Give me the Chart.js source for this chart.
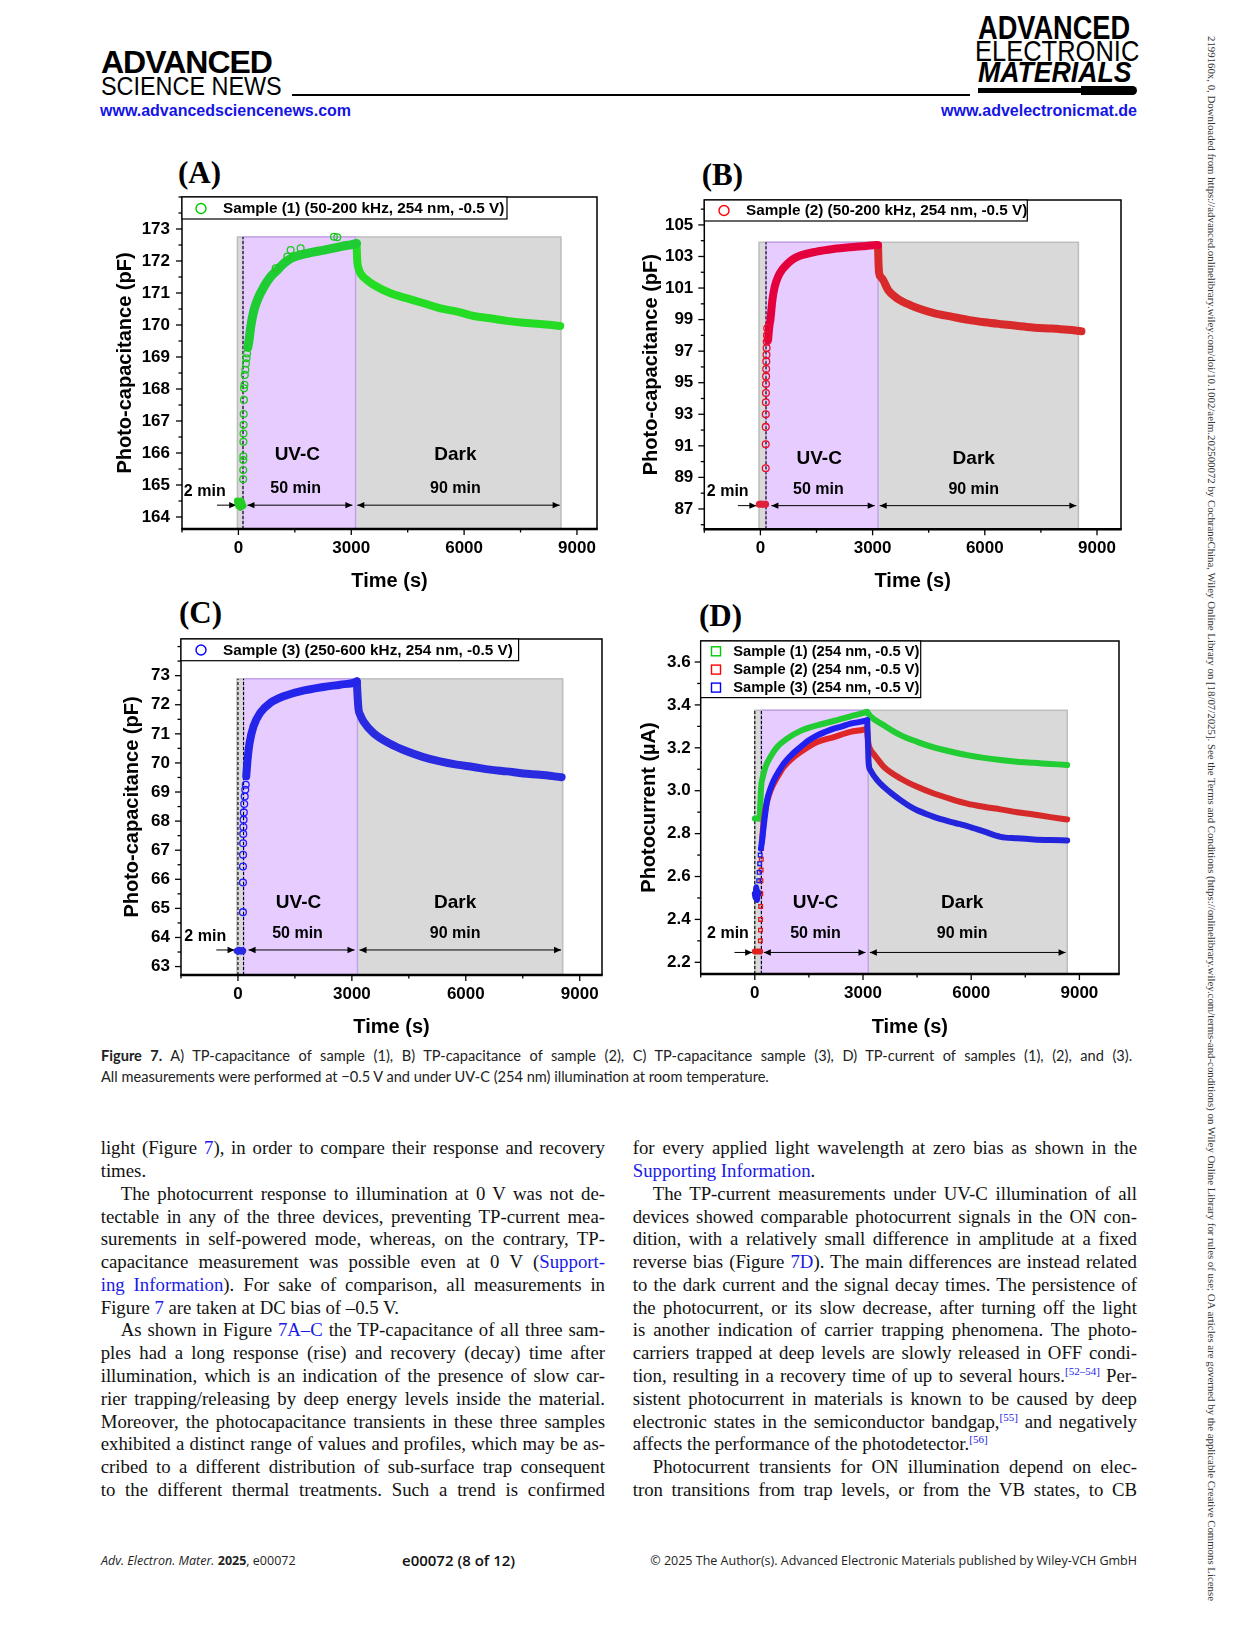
<!DOCTYPE html>
<html><head><meta charset="utf-8">
<script src="https://cdn.jsdelivr.net/npm/chart.js@4.4.1/dist/chart.umd.min.js"></script>
<style>
html,body{margin:0;padding:0;background:#fff;}
body{width:1241px;height:1630px;position:relative;overflow:hidden;font-family:'Liberation Sans',Arial,sans-serif;color:#000;}
.a{position:absolute;white-space:nowrap;line-height:1;}
canvas{position:absolute;}
.pl{position:absolute;font-family:'Liberation Serif',serif;font-weight:bold;font-size:31px;line-height:1;}
.tl{position:absolute;display:inline-block;white-space:nowrap;font-family:'Liberation Serif',serif;font-size:18.8px;line-height:22px;color:#111;}
.lk{color:#1a1ae6;}
sup{font-size:11px;line-height:0;vertical-align:7px;}
.cap{position:absolute;display:inline-block;white-space:nowrap;font-family:Lato,'Open Sans',sans-serif;font-size:14.6px;line-height:18px;color:#222;}
.ft{position:absolute;white-space:nowrap;font-family:'Open Sans',sans-serif;font-size:12.5px;line-height:16px;color:#222;}
</style></head><body>

<!-- header -->
<div class="a" style="left:101px;top:46px;font-size:32px;font-weight:bold;letter-spacing:-1px;">ADVANCED</div>
<div class="a" style="left:101px;top:73px;font-size:26px;transform:scaleX(0.9);transform-origin:left top;">SCIENCE NEWS</div>
<div style="position:absolute;left:292px;top:94px;width:678px;height:1.6px;background:#000;"></div>
<div class="a" style="left:100px;top:103px;font-size:16px;font-weight:bold;color:#1414e6;">www.advancedsciencenews.com</div>
<div class="a" style="left:978px;top:10px;font-size:34px;font-weight:bold;transform:scaleX(0.8);transform-origin:left top;">ADVANCED</div>
<div class="a" style="left:975px;top:36px;font-size:30px;transform:scaleX(0.85);transform-origin:left top;">ELECTRONIC</div>
<div class="a" style="left:978px;top:58px;font-size:29px;font-weight:bold;font-style:italic;transform:scaleX(0.92);transform-origin:left top;">MATERIALS</div>
<div style="position:absolute;left:978px;top:88px;width:105px;height:5px;background:#000;"></div>
<div style="position:absolute;left:1081px;top:86px;width:56px;height:9px;background:#000;border-radius:0 4.5px 4.5px 0;"></div>
<div class="a" style="right:104px;top:103px;font-size:16px;font-weight:bold;color:#1414e6;">www.advelectronicmat.de</div>
<div id="vt" class="a" style="left:1216px;top:36px;font-family:'Liberation Serif',serif;font-size:10.5px;color:#333;transform-origin:left top;">2199160x, 0, Downloaded from https://advanced.onlinelibrary.wiley.com/doi/10.1002/aelm.202500072 by CochraneChina, Wiley Online Library on [18/07/2025]. See the Terms and Conditions (https://onlinelibrary.wiley.com/terms-and-conditions) on Wiley Online Library for rules of use; OA articles are governed by the applicable Creative Commons License</div>

<!-- panel letters -->
<div class="pl" style="left:178px;top:157px;">(A)</div>
<div class="pl" style="left:701.7px;top:158.7px;">(B)</div>
<div class="pl" style="left:179px;top:597px;">(C)</div>
<div class="pl" style="left:699px;top:599.7px;">(D)</div>

<canvas id="cA"></canvas>
<canvas id="cB"></canvas>
<canvas id="cC"></canvas>
<canvas id="cD"></canvas>

<div id="caption"></div>
<div id="body"></div>

<div class="ft" style="left:101px;top:1553px;"><i>Adv. Electron. Mater.</i> <b>2025</b>, e00072</div>
<div class="ft" style="left:402px;top:1552px;font-size:15px;font-weight:600;color:#111;">e00072 (8 of 12)</div>
<div class="ft" style="right:104px;top:1553px;">© 2025 The Author(s). Advanced Electronic Materials published by Wiley-VCH GmbH</div>

<script>
// ================= DATA =================
const xTicks  = [0, 3000, 6000, 9000];
const yTicksA = [164, 165, 166, 167, 168, 169, 170, 171, 172, 173];
const yTicksB = [87, 89, 91, 93, 95, 97, 99, 101, 103, 105];
const yTicksC = [63, 64, 65, 66, 67, 68, 69, 70, 71, 72, 73];
const yTicksD = [2.2, 2.4, 2.6, 2.8, 3.0, 3.2, 3.4, 3.6];

const labelA = 'Sample (1) (50-200 kHz, 254 nm, -0.5 V)';
const labelB = 'Sample (2) (50-200 kHz, 254 nm, -0.5 V)';
const labelC = 'Sample (3) (250-600 kHz, 254 nm, -0.5 V)';
const labelsD = ['Sample (1) (254 nm, -0.5 V)', 'Sample (2) (254 nm, -0.5 V)', 'Sample (3) (254 nm, -0.5 V)'];

// (A) Sample (1) photo-capacitance, pF
const s1BaseT  = [-25, 0, 25, 50, 75, 100, 120];
const s1BaseV  = [164.5, 164.35, 164.45, 164.3, 164.5, 164.4, 164.35];
const s1DotsT  = [126, 128, 130, 131, 133, 135, 138, 140, 146, 150, 160, 170, 185, 200, 215, 230, 991, 1300, 1389, 1654, 2540, 2628];
const s1DotsV  = [165.18, 165.47, 165.78, 165.9, 166.35, 166.61, 166.88, 167.22, 167.66, 168.02, 168.13, 168.44, 168.6, 168.8, 168.96, 169.11, 171.77, 172.14, 172.34, 172.4, 172.76, 172.74];
const s1RiseT  = [250, 283, 327, 415, 504, 681, 858, 1035, 1212, 1389, 1831, 2274, 2716, 3070, 3140];
const s1RiseV  = [169.3, 169.53, 169.95, 170.47, 170.78, 171.2, 171.51, 171.72, 171.93, 172.08, 172.24, 172.34, 172.45, 172.53, 172.55];
const s1DecayT = [3140, 3160, 3200, 3247, 3424, 3601, 4044, 4486, 4928, 5371, 5813, 6256, 6698, 7140, 7583, 8025, 8556];
const s1DecayV = [172.55, 172.0, 171.75, 171.61, 171.4, 171.25, 170.99, 170.83, 170.68, 170.52, 170.42, 170.28, 170.21, 170.13, 170.07, 170.03, 169.97];

// (B) Sample (2) photo-capacitance, pF
const s2BaseT  = [-30, 0, 30, 60, 90, 120, 140];
const s2BaseV  = [87.3, 87.3, 87.32, 87.28, 87.3, 87.3, 87.3];
const s2DotsT  = [142, 142, 143, 144, 146, 148, 150, 152, 155, 158, 162, 166, 170, 176, 182];
const s2DotsV  = [89.58, 91.1, 92.2, 93.0, 93.76, 94.35, 94.92, 95.4, 95.87, 96.35, 96.77, 97.2, 97.6, 98.0, 98.45];
const s2RiseT  = [204, 240, 267, 321, 383, 473, 562, 695, 873, 1052, 1497, 1943, 2389, 2834, 3102, 3145];
const s2RiseV  = [97.7, 98.6, 98.98, 100.25, 101.09, 101.72, 102.1, 102.47, 102.83, 103.04, 103.31, 103.48, 103.59, 103.67, 103.73, 103.72];
const s2DecayT = [3145, 3158, 3175, 3220, 3281, 3415, 3593, 3771, 4217, 4662, 5108, 5554, 6000, 6445, 6891, 7337, 7782, 8228, 8585];
const s2DecayV = [103.7, 102.6, 101.95, 101.7, 101.51, 100.88, 100.46, 100.18, 99.72, 99.4, 99.19, 98.98, 98.83, 98.71, 98.6, 98.49, 98.43, 98.35, 98.26];

// (C) Sample (3) photo-capacitance, pF
const s3BaseT  = [-20, 0, 25, 50, 75, 100, 125];
const s3BaseV  = [63.54, 63.52, 63.56, 63.54, 63.53, 63.55, 63.54];
const s3DotsT  = [131, 131, 132, 134, 136, 139, 143, 148, 155, 165, 178, 192, 205];
const s3DotsV  = [64.87, 65.89, 66.44, 66.84, 67.24, 67.56, 67.8, 68.05, 68.3, 68.59, 68.85, 69.08, 69.25];
const s3RiseT  = [218, 253, 305, 410, 585, 848, 1199, 1638, 2252, 2691, 3085, 3130];
const s3RiseV  = [69.54, 70.11, 70.68, 71.26, 71.72, 72.06, 72.29, 72.46, 72.61, 72.69, 72.77, 72.8];
const s3DecayT = [3130, 3150, 3175, 3220, 3304, 3567, 4006, 4445, 4883, 5322, 5761, 6199, 6638, 7077, 7515, 7954, 8524];
const s3DecayV = [72.8, 72.3, 71.85, 71.65, 71.43, 71.03, 70.66, 70.4, 70.2, 70.05, 69.94, 69.86, 69.77, 69.71, 69.64, 69.59, 69.51];

// (D) photocurrent, µA
const d1BaseT  = [0, 30, 60, 90, 120, 135];
const d1BaseV  = [2.87, 2.87, 2.87, 2.87, 2.87, 2.87];
const d1RiseT  = [135, 150, 176, 222, 296, 435, 620, 897, 1267, 1729, 2190, 2653, 3116];
const d1RiseV  = [2.87, 2.93, 3.018, 3.064, 3.111, 3.158, 3.204, 3.243, 3.279, 3.305, 3.325, 3.347, 3.367];
const d1DecayT = [3116, 3208, 3578, 4040, 4502, 4964, 5426, 5888, 6350, 6812, 7274, 7736, 8198, 8661];
const d1DecayV = [3.367, 3.347, 3.305, 3.259, 3.228, 3.202, 3.183, 3.166, 3.153, 3.143, 3.135, 3.13, 3.125, 3.12];

const d2BaseT  = [0, 30, 60, 90, 120, 150];
const d2BaseV  = [2.25, 2.25, 2.25, 2.25, 2.25, 2.25];
const d2DotsT  = [155, 158, 160, 163, 166, 170, 175, 180, 188];
const d2DotsV  = [2.3, 2.35, 2.4, 2.46, 2.52, 2.58, 2.63, 2.68, 2.73];
const d2RiseT  = [195, 230, 270, 342, 435, 527, 665, 804, 1035, 1267, 1729, 2190, 2653, 3023, 3110];
const d2RiseV  = [2.76, 2.83, 2.89, 2.95, 3.0, 3.034, 3.075, 3.111, 3.15, 3.18, 3.227, 3.25, 3.274, 3.285, 3.29];
const d2DecayT = [3110, 3130, 3150, 3180, 3300, 3393, 3578, 4040, 4502, 4964, 5426, 5888, 6350, 6812, 7274, 7736, 8198, 8661];
const d2DecayV = [3.29, 3.25, 3.22, 3.2, 3.17, 3.15, 3.111, 3.057, 3.018, 2.987, 2.962, 2.94, 2.925, 2.913, 2.9, 2.889, 2.877, 2.866];

const d3BaseT  = [0, 20, 40, 60, 80, 100];
const d3BaseV  = [2.52, 2.5, 2.55, 2.49, 2.53, 2.52];
const d3DotsT  = [110, 120, 135, 150];
const d3DotsV  = [2.58, 2.62, 2.66, 2.7];
const d3RiseT  = [170, 204, 250, 342, 435, 527, 665, 804, 1035, 1267, 1500, 1729, 1960, 2190, 2420, 2653, 2880, 3116];
const d3RiseV  = [2.73, 2.77, 2.84, 2.956, 3.01, 3.049, 3.09, 3.127, 3.17, 3.204, 3.235, 3.258, 3.275, 3.289, 3.3, 3.313, 3.32, 3.328];
const d3DecayT = [3116, 3135, 3150, 3170, 3208, 3393, 3578, 3809, 4040, 4271, 4502, 4733, 4964, 5195, 5426, 5657, 5888, 6350, 6812, 7274, 7736, 8198, 8661];
const d3DecayV = [3.328, 3.24, 3.15, 3.11, 3.095, 3.049, 3.018, 2.985, 2.956, 2.93, 2.909, 2.893, 2.878, 2.866, 2.855, 2.845, 2.835, 2.81, 2.785, 2.778, 2.773, 2.77, 2.768];

// ================= helpers =================
Chart.defaults.font.family = "'Liberation Sans', Arial, sans-serif";
function pts(t, v) { return t.map((x, i) => ({x: x, y: v[i]})); }
function band(t, v, color, width, order, label) {
  return {label: label || '', data: pts(t, v), borderColor: color, backgroundColor: color, borderWidth: width,
    pointRadius: 0, fill: false, cubicInterpolationMode: 'monotone', borderCapStyle: 'round', borderJoinStyle: 'round', order: order};
}
function dots(t, v, color, style, r, order) {
  return {data: pts(t, v), showLine: false, pointStyle: style, pointRadius: r, pointBorderWidth: 1.3,
    pointBorderColor: color, pointBackgroundColor: 'rgba(255,255,255,0)', order: order};
}
function head(ctx, x, y, dir) {
  ctx.beginPath(); ctx.moveTo(x, y); ctx.lineTo(x - dir * 7, y - 3.2); ctx.lineTo(x - dir * 7, y + 3.2); ctx.closePath(); ctx.fill();
}

// ================= panel layout / styling =================
const PAD_TOP = 32, PAD_RIGHT = 16;
const panels = [
  { id: 'cA', L: 182, T: 197, R: 597, B: 529, yTitleX: 125, xTitleY: 581,
    xMin: -1500, xMax: 9533, yMin: 163.625, yMax: 174.0, yTicks: yTicksA, yMinorStep: 0.5, yPad: 12,
    yTitle: 'Photo-capacitance (pF)', fmt: v => String(v),
    shade: [-27, 122, 3114, 8575], shadeTop: 172.75, dashed: [122],
    arrowY: 164.37, arrows: [[-570, -60, 1], [240, 3030, 2], [3160, 8540, 2]],
    texts: [['2 min', -895, 164.78, 16], ['UV-C', 1566, 165.94, 19], ['50 min', 1521, 164.9, 16], ['Dark', 5768, 165.94, 19], ['90 min', 5768, 164.9, 16]],
    legend: {w: 325, h: 22, rows: [11.5], mx: 19, tx: 41, shape: 'circle', font: 15.3, items: [[labelA, '#00cc00']]},
    datasets: [
      dots(s1DotsT, s1DotsV, '#1ec81e', 'circle', 3.4, 0),
      band(s1BaseT, s1BaseV, '#22cc22', 7, 1, labelA),
      band(s1RiseT, s1RiseV, '#1fcc33', 9, 1),
      band(s1DecayT, s1DecayV, '#24dc24', 8, 1)
    ] },
  { id: 'cB', L: 704.3, T: 200, R: 1121, B: 529.3, yTitleX: 651, xTitleY: 581,
    xMin: -1500, xMax: 9642, yMin: 85.71, yMax: 106.58, yTicks: yTicksB, yMinorStep: 1, yPad: 11,
    yTitle: 'Photo-capacitance (pF)', fmt: v => String(v),
    shade: [-37, 150, 3145, 8503], shadeTop: 103.9, dashed: [150],
    arrowY: 87.21, arrows: [[-599, -107, 1], [294, 3056, 2], [3190, 8449, 2]],
    texts: [['2 min', -874, 88.1, 16], ['UV-C', 1572, 90.21, 19], ['50 min', 1550, 88.2, 16], ['Dark', 5704, 90.15, 19], ['90 min', 5704, 88.2, 16]],
    legend: {w: 323, h: 21, rows: [10.5], mx: 19.7, tx: 41.7, shape: 'circle', font: 15.3, items: [[labelB, '#ff0000']]},
    datasets: [
      dots(s2DotsT, s2DotsV, '#e8102a', 'circle', 3.4, 0),
      band(s2BaseT, s2BaseV, '#e0203a', 7, 1, labelB),
      band(s2RiseT, s2RiseV, '#e4003c', 8, 1),
      band(s2DecayT, s2DecayV, '#d82a2a', 8, 1)
    ] },
  { id: 'cC', L: 180.7, T: 639.3, R: 602, B: 975, yTitleX: 131.7, xTitleY: 1027,
    xMin: -1500, xMax: 9587, yMin: 62.71, yMax: 74.26, yTicks: yTicksC, yMinorStep: 0.5, yPad: 11,
    yTitle: 'Photo-capacitance (pF)', fmt: v => String(v),
    shade: [-26, 147, 3147, 8552], shadeTop: 72.89, dashed: [0, 147],
    arrowY: 63.57, arrows: [[-571, -89, 1], [279, 3069, 2], [3200, 8509, 2]],
    texts: [['2 min', -861, 64.03, 16], ['UV-C', 1595, 65.2, 19], ['50 min', 1569, 64.15, 16], ['Dark', 5719, 65.2, 19], ['90 min', 5719, 64.15, 16]],
    legend: {w: 337.6, h: 21.7, rows: [11], mx: 20, tx: 42, shape: 'circle', font: 15.3, items: [[labelC, '#0000ff']]},
    datasets: [
      dots(s3DotsT, s3DotsV, '#2020ff', 'circle', 3.4, 0),
      band(s3BaseT, s3BaseV, '#2a2ae6', 7, 1, labelC),
      band(s3RiseT, s3RiseV, '#2424ea', 8, 1),
      band(s3DecayT, s3DecayV, '#2a2ae0', 8, 1)
    ] },
  { id: 'cD', L: 700.7, T: 640.7, R: 1119, B: 974, yTitleX: 649, xTitleY: 1027,
    xMin: -1500, xMax: 10098, yMin: 2.1455, yMax: 3.698, yTicks: yTicksD, yMinorStep: 0.1, yPad: 10,
    yTitle: 'Photocurrent (µA)', fmt: v => v.toFixed(1),
    shade: [0, 183, 3144, 8662], shadeTop: 3.375, dashed: [0, 183],
    arrowY: 2.246, arrows: [[-563, -73, 1], [250, 3070, 2], [3189, 8616, 2]],
    texts: [['2 min', -743, 2.336, 16], ['UV-C', 1683, 2.477, 19], ['50 min', 1683, 2.336, 16], ['Dark', 5751, 2.477, 19], ['90 min', 5751, 2.336, 16]],
    legend: {w: 220, h: 56.6, rows: [10.3, 28.6, 46.6], mx: 15.3, tx: 32.6, shape: 'square', font: 14.7,
             items: [[labelsD[0], '#00cc00'], [labelsD[1], '#ff0000'], [labelsD[2], '#0000ff']]},
    datasets: [
      band(d1BaseT, d1BaseV, '#22cc33', 6, 6, labelsD[0]),
      band(d1RiseT, d1RiseV, '#22cc33', 6, 6),
      band(d1DecayT, d1DecayV, '#22cc33', 6, 6),
      band(d2BaseT, d2BaseV, '#e02020', 6, 4, labelsD[1]),
      dots(d2DotsT, d2DotsV, '#e01818', 'rect', 2.6, 3),
      band(d2RiseT, d2RiseV, '#e02626', 6, 4),
      band(d2DecayT, d2DecayV, '#d62a2a', 6, 4),
      band(d3BaseT, d3BaseV, '#2020e6', 6, 1, labelsD[2]),
      dots(d3DotsT, d3DotsV, '#1818f0', 'rect', 2.6, 0),
      band(d3RiseT, d3RiseV, '#1f1ff0', 6, 1),
      band(d3DecayT, d3DecayV, '#2424dc', 6, 1)
    ] }
];

function decor(p) {
  return {
    id: 'decor',
    beforeDatasetsDraw(chart) {
      const {ctx, chartArea: a, scales: {x, y}} = chart;
      const X = v => x.getPixelForValue(v), Y = v => y.getPixelForValue(v);
      ctx.save();
      const ty = Y(p.shadeTop);
      const g0 = X(p.shade[0]), u0 = X(p.shade[1]), u1 = X(p.shade[2]), g1 = X(p.shade[3]);
      ctx.fillStyle = '#d9d9d9'; ctx.fillRect(g0, ty, g1 - g0, a.bottom - ty);
      ctx.strokeStyle = '#bdbdbd'; ctx.lineWidth = 1.5; ctx.strokeRect(g0, ty, g1 - g0, a.bottom - ty);
      ctx.fillStyle = '#e6ccff'; ctx.fillRect(u0, ty, u1 - u0, a.bottom - ty);
      ctx.strokeStyle = '#c3a0ec'; ctx.lineWidth = 1.4; ctx.strokeRect(u0, ty, u1 - u0, a.bottom - ty);
      ctx.strokeStyle = '#000'; ctx.lineWidth = 1.1; ctx.setLineDash([3, 2]);
      p.dashed.forEach(v => { const px = X(v); ctx.beginPath(); ctx.moveTo(px, a.bottom); ctx.lineTo(px, ty); ctx.stroke(); });
      ctx.setLineDash([]);
      const ay = Y(p.arrowY);
      ctx.fillStyle = '#000'; ctx.strokeStyle = '#000'; ctx.lineWidth = 1;
      p.arrows.forEach(([s, e, k]) => {
        const xs = X(s), xe = X(e);
        ctx.beginPath(); ctx.moveTo(xs, ay); ctx.lineTo(xe, ay); ctx.stroke();
        head(ctx, xe, ay, 1);
        if (k === 2) head(ctx, xs, ay, -1);
      });
      ctx.textAlign = 'center'; ctx.textBaseline = 'middle';
      p.texts.forEach(([t, tx, tyv, fs]) => {
        ctx.font = 'bold ' + fs + "px 'Liberation Sans', Arial, sans-serif";
        ctx.fillText(t, X(tx), Y(tyv));
      });
      ctx.restore();
    },
    afterDraw(chart) {
      const {ctx, chartArea: a, scales: {x, y}} = chart;
      const X = v => x.getPixelForValue(v), Y = v => y.getPixelForValue(v);
      ctx.save();
      ctx.strokeStyle = '#000';
      ctx.lineWidth = 1.5;
      ctx.beginPath(); ctx.moveTo(a.left, a.bottom); ctx.lineTo(a.left, a.top); ctx.lineTo(a.right, a.top); ctx.lineTo(a.right, a.bottom); ctx.stroke();
      ctx.lineWidth = 2.6;
      ctx.beginPath(); ctx.moveTo(a.left - 0.75, a.bottom); ctx.lineTo(a.right + 0.75, a.bottom); ctx.stroke();
      ctx.lineWidth = 1.3;
      const isMajor = (list, v, eps) => list.some(m => Math.abs(m - v) < eps);
      const k0 = Math.ceil(p.yMin / p.yMinorStep - 1e-9), k1 = Math.floor(p.yMax / p.yMinorStep + 1e-9);
      for (let k = k0; k <= k1; k++) {
        const v = k * p.yMinorStep, py = Y(v);
        const len = isMajor(p.yTicks, v, p.yMinorStep / 10) ? 6 : 3.5;
        ctx.beginPath(); ctx.moveTo(a.left, py); ctx.lineTo(a.left - len, py); ctx.stroke();
      }
      for (let v = -1500; v <= p.xMax; v += 1500) {
        const px = X(v);
        const len = isMajor(xTicks, v, 1) ? 6 : 3.5;
        ctx.beginPath(); ctx.moveTo(px, a.bottom); ctx.lineTo(px, a.bottom + len); ctx.stroke();
      }
      // legend
      const lg = p.legend;
      ctx.fillStyle = '#fff'; ctx.fillRect(a.left, a.top, lg.w, lg.h);
      ctx.strokeStyle = '#000'; ctx.lineWidth = 1.2; ctx.strokeRect(a.left, a.top, lg.w, lg.h);
      ctx.font = 'bold ' + lg.font + "px 'Liberation Sans', Arial, sans-serif";
      ctx.textAlign = 'left'; ctx.textBaseline = 'middle';
      lg.items.forEach(([label, color], i) => {
        const cy = a.top + lg.rows[i];
        ctx.strokeStyle = color; ctx.lineWidth = 1.4;
        if (lg.shape === 'circle') { ctx.beginPath(); ctx.arc(a.left + lg.mx, cy, 5, 0, Math.PI * 2); ctx.stroke(); }
        else { ctx.strokeRect(a.left + lg.mx - 4.5, cy - 4.5, 9, 9); }
        ctx.fillStyle = '#000'; ctx.fillText(label, a.left + lg.tx, cy + 0.5);
      });
      ctx.restore();
    }
  };
}

panels.forEach(p => {
  const cv = document.getElementById(p.id);
  const cl = p.yTitleX - 12, ct = p.T - PAD_TOP;
  const yW = p.L - cl, xH = p.xTitleY + 12 - p.B;
  const w = Math.round(p.R - cl + PAD_RIGHT), h = Math.round(p.B - ct + xH);
  cv.style.left = cl + 'px'; cv.style.top = ct + 'px';
  cv.width = w; cv.height = h; cv.style.width = w + 'px'; cv.style.height = h + 'px';
  const tickFont = {family: "'Liberation Sans', Arial, sans-serif", weight: 'bold', size: 17, lineHeight: 1.2};
  const titleFont = {family: "'Liberation Sans', Arial, sans-serif", weight: 'bold', size: 20, lineHeight: 1.2};
  new Chart(cv, {
    type: 'line',
    data: {datasets: p.datasets},
    options: {
      responsive: false, animation: false, events: [],
      layout: {padding: {top: PAD_TOP, right: PAD_RIGHT, left: 0, bottom: 0}},
      plugins: {legend: {display: false}, tooltip: {enabled: false}},
      scales: {
        x: {type: 'linear', min: p.xMin, max: p.xMax, position: 'bottom',
            grid: {display: false, drawTicks: false}, border: {display: false},
            ticks: {font: tickFont, color: '#000', padding: 9, maxRotation: 0, autoSkip: false, callback: v => String(v)},
            afterBuildTicks: s => { s.ticks = xTicks.map(v => ({value: v})); },
            afterFit: s => { s.height = xH; },
            title: {display: true, text: 'Time (s)', font: titleFont, color: '#000', padding: 0}},
        y: {type: 'linear', min: p.yMin, max: p.yMax,
            grid: {display: false, drawTicks: false}, border: {display: false},
            ticks: {font: tickFont, color: '#000', padding: p.yPad, autoSkip: false, callback: v => p.fmt(v)},
            afterBuildTicks: s => { s.ticks = p.yTicks.map(v => ({value: v})); },
            afterFit: s => { s.width = yW; },
            title: {display: true, text: p.yTitle, font: titleFont, color: '#000', padding: 0}}
      }
    },
    plugins: [decor(p)]
  });
});

// ================= text blocks =================
function fitLine(el, W) {
  el.style.wordSpacing = '0px';
  const nat = el.getBoundingClientRect().width;
  const n = (el.textContent.match(/ /g) || []).length;
  if (n > 0) el.style.wordSpacing = ((W - nat) / n) + 'px';
}
function placeLines(container, lines, left, width, top0, step, cls) {
  lines.forEach(([html, mode], i) => {
    const d = document.createElement('div');
    d.className = cls;
    d.innerHTML = html;
    d.style.left = left + 'px';
    d.style.top = (top0 + step * i) + 'px';
    if (mode === 'i') d.style.paddingLeft = '20px';
    container.appendChild(d);
    if (mode !== 'l') fitLine(d, width);
  });
}
const captionLines = [
  ['<b>Figure 7.</b>  A) TP-capacitance of sample (1), B) TP-capacitance of sample (2), C) TP-capacitance sample (3), D) TP-current of samples (1), (2), and (3).', 'j'],
  ['All measurements were performed at −0.5 V and under UV-C (254 nm) illumination at room temperature.', 'l']
];
const leftLines = [
  ['light (Figure <span class="lk">7</span>), in order to compare their response and recovery', 'j'],
  ['times.', 'l'],
  ['The photocurrent response to illumination at 0 V was not de-', 'i'],
  ['tectable in any of the three devices, preventing TP-current mea-', 'j'],
  ['surements in self-powered mode, whereas, on the contrary, TP-', 'j'],
  ['capacitance measurement was possible even at 0 V (<span class="lk">Support-</span>', 'j'],
  ['<span class="lk">ing Information</span>). For sake of comparison, all measurements in', 'j'],
  ['Figure <span class="lk">7</span> are taken at DC bias of –0.5 V.', 'l'],
  ['As shown in Figure <span class="lk">7A–C</span> the TP-capacitance of all three sam-', 'i'],
  ['ples had a long response (rise) and recovery (decay) time after', 'j'],
  ['illumination, which is an indication of the presence of slow car-', 'j'],
  ['rier trapping/releasing by deep energy levels inside the material.', 'j'],
  ['Moreover, the photocapacitance transients in these three samples', 'j'],
  ['exhibited a distinct range of values and profiles, which may be as-', 'j'],
  ['cribed to a different distribution of sub-surface trap consequent', 'j'],
  ['to the different thermal treatments. Such a trend is confirmed', 'j']
];
const rightLines = [
  ['for every applied light wavelength at zero bias as shown in the', 'j'],
  ['<span class="lk">Supporting Information</span>.', 'l'],
  ['The TP-current measurements under UV-C illumination of all', 'i'],
  ['devices showed comparable photocurrent signals in the ON con-', 'j'],
  ['dition, with a relatively small difference in amplitude at a fixed', 'j'],
  ['reverse bias (Figure <span class="lk">7D</span>). The main differences are instead related', 'j'],
  ['to the dark current and the signal decay times. The persistence of', 'j'],
  ['the photocurrent, or its slow decrease, after turning off the light', 'j'],
  ['is another indication of carrier trapping phenomena. The photo-', 'j'],
  ['carriers trapped at deep levels are slowly released in OFF condi-', 'j'],
  ['tion, resulting in a recovery time of up to several hours.<sup class="lk">[52–54]</sup> Per-', 'j'],
  ['sistent photocurrent in materials is known to be caused by deep', 'j'],
  ['electronic states in the semiconductor bandgap,<sup class="lk">[55]</sup> and negatively', 'j'],
  ['affects the performance of the photodetector.<sup class="lk">[56]</sup>', 'l'],
  ['Photocurrent transients for ON illumination depend on elec-', 'i'],
  ['tron transitions from trap levels, or from the VB states, to CB', 'j']
];
const cap = document.getElementById('caption');
placeLines(cap, captionLines, 101, 1036, 1047, 20.5, 'cap');
const body = document.getElementById('body');
placeLines(body, leftLines, 100.7, 504.3, 1148.3 - 11, 22.77, 'tl');
placeLines(body, rightLines, 632.7, 504.3, 1148.3 - 11, 22.77, 'tl');

// vertical side note
const vt = document.getElementById('vt');
const vw = vt.getBoundingClientRect().width;
vt.style.transform = 'rotate(90deg) scaleX(' + (1565 / vw) + ')';
</script>
</body></html>
